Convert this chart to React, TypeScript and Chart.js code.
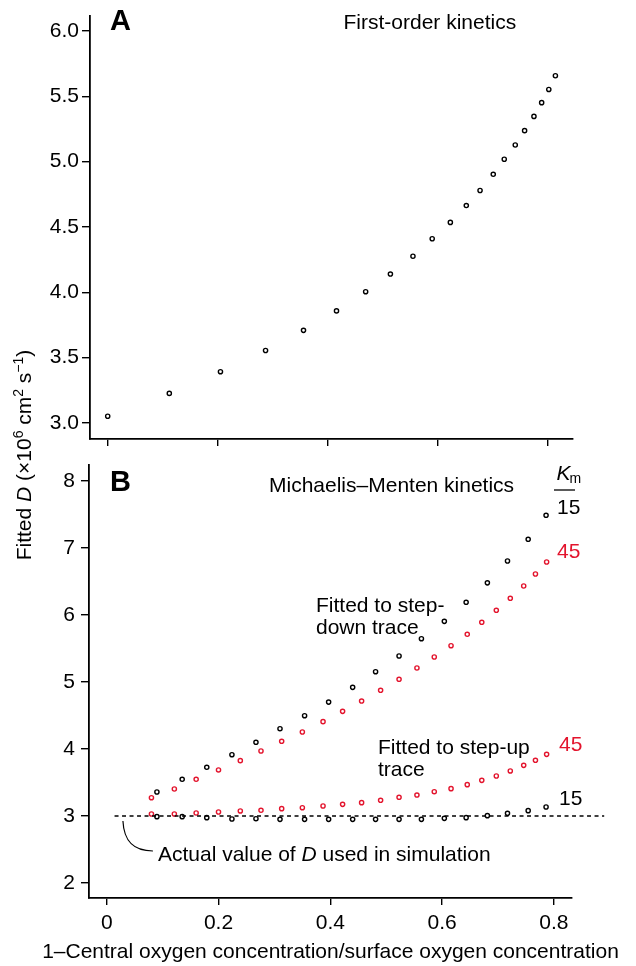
import React, { useEffect, useRef } from 'react';
import { Chart, registerables } from 'chart.js';

Chart.register(...registerables);

const FONT = '"Liberation Sans", Arial, Helvetica, sans-serif';
const RED = '#e3142d';
const INK = '#000';

// ---------- Panel A: first-order kinetics ----------
const firstOrderX = [0, 0.112, 0.205, 0.287, 0.356, 0.416, 0.469, 0.514, 0.555, 0.59, 0.623, 0.652, 0.677, 0.701, 0.721, 0.741, 0.758, 0.775, 0.789, 0.802, 0.814];
const firstOrderD = [3.052, 3.227, 3.393, 3.555, 3.709, 3.858, 4.005, 4.14, 4.276, 4.41, 4.535, 4.664, 4.779, 4.903, 5.018, 5.127, 5.237, 5.346, 5.451, 5.552, 5.657];
const yTicksA = [3.0, 3.5, 4.0, 4.5, 5.0, 5.5, 6.0];
const yTickLabelsA = ['3.0', '3.5', '4.0', '4.5', '5.0', '5.5', '6.0'];

// ---------- Panel B: Michaelis–Menten kinetics ----------
const xKm15 = [0.0898, 0.135, 0.179, 0.224, 0.267, 0.31, 0.354, 0.397, 0.44, 0.481, 0.523, 0.563, 0.604, 0.643, 0.681, 0.717, 0.754, 0.786];
const stepDownKm15 = [3.358, 3.548, 3.727, 3.915, 4.1, 4.303, 4.497, 4.7, 4.92, 5.154, 5.388, 5.646, 5.905, 6.19, 6.48, 6.806, 7.13, 7.488];
const stepUpKm15 = [2.99, 2.99, 2.975, 2.955, 2.96, 2.95, 2.95, 2.95, 2.95, 2.95, 2.95, 2.95, 2.965, 2.975, 3.005, 3.04, 3.08, 3.134];
const xKm45 = [0.08, 0.121, 0.16, 0.2, 0.239, 0.276, 0.313, 0.35, 0.387, 0.422, 0.456, 0.49, 0.523, 0.555, 0.586, 0.616, 0.645, 0.671, 0.697, 0.722, 0.746, 0.767, 0.787];
const stepDownKm45 = [3.273, 3.403, 3.548, 3.687, 3.826, 3.97, 4.115, 4.254, 4.408, 4.562, 4.716, 4.876, 5.04, 5.209, 5.373, 5.542, 5.712, 5.891, 6.07, 6.249, 6.433, 6.612, 6.791];
const stepUpKm45 = [3.03, 3.03, 3.045, 3.06, 3.075, 3.085, 3.11, 3.124, 3.149, 3.174, 3.199, 3.234, 3.279, 3.313, 3.363, 3.408, 3.468, 3.532, 3.597, 3.672, 3.756, 3.831, 3.92];
const actualD = 3;
const actualLineX = [0.014, 0.89];
const yTicksB = [2, 3, 4, 5, 6, 7, 8];
const yTickLabelsB = ['2', '3', '4', '5', '6', '7', '8'];

// shared x ticks
const xTicks = [0, 0.2, 0.4, 0.6, 0.8];
const xTickLabels = ['0', '0.2', '0.4', '0.6', '0.8'];

const xTitle = '1\u2013Central oxygen concentration/surface oxygen concentration';

const W = 636;
const H = 966;

const pts = (xs: number[], ys: number[]) => xs.map((x, i) => ({ x, y: ys[i] }));

const pointDs = (data: { x: number; y: number }[], color: string) => ({
  data,
  showLine: false,
  pointStyle: 'circle',
  pointRadius: 2.1,
  pointHoverRadius: 2.1,
  pointBorderWidth: 1.4,
  borderColor: color,
  pointBorderColor: color,
  backgroundColor: 'rgba(0,0,0,0)',
  pointBackgroundColor: 'rgba(0,0,0,0)',
});

const font = (size: number, style = '', weight = '') => `${style} ${weight} ${size}px ${FONT}`.trim();

function drawRich(ctx: CanvasRenderingContext2D, segs: { t: string; f: string; dy?: number; c?: string }[], x: number, y: number, center = false) {
  let total = 0;
  for (const s of segs) {
    ctx.font = s.f;
    total += ctx.measureText(s.t).width;
  }
  let cx = center ? x - total / 2 : x;
  ctx.textAlign = 'left';
  ctx.textBaseline = 'alphabetic';
  for (const s of segs) {
    ctx.font = s.f;
    ctx.fillStyle = s.c || INK;
    ctx.fillText(s.t, cx, y + (s.dy || 0));
    cx += ctx.measureText(s.t).width;
  }
}

function text(ctx: CanvasRenderingContext2D, t: string, x: number, y: number, f: string, c = INK, align: CanvasTextAlign = 'left') {
  ctx.font = f;
  ctx.fillStyle = c;
  ctx.textAlign = align;
  ctx.textBaseline = 'alphabetic';
  ctx.fillText(t, x, y);
}

const axisStyle = {
  grid: { display: true, drawOnChartArea: false, drawTicks: true, tickLength: 8, color: INK, lineWidth: 1.4 },
  border: { display: true, color: INK, width: 1.8 },
};

const annotA = {
  id: 'annotA',
  afterDraw(chart: any) {
    const ctx = chart.ctx as CanvasRenderingContext2D;
    ctx.save();
    text(ctx, 'A', 110, 30, font(29, '', 'bold'));
    text(ctx, 'First-order kinetics', 343.5, 28.5, font(21));
    ctx.restore();
  },
};

const annotB = {
  id: 'annotB',
  afterDraw(chart: any) {
    const ctx = chart.ctx as CanvasRenderingContext2D;
    const xs = chart.scales.x;
    const ys = chart.scales.y;
    const area = chart.chartArea;
    ctx.save();
    text(ctx, 'B', 110, 490.5, font(29, '', 'bold'));
    text(ctx, 'Michaelis\u2013Menten kinetics', 269, 491.5, font(21));
    // K_m header
    text(ctx, 'K', 556.5, 480, font(21, 'italic'));
    ctx.font = font(21, 'italic');
    const kw = ctx.measureText('K').width;
    text(ctx, 'm', 556.5 + kw - 1, 483, font(14));
    ctx.strokeStyle = INK;
    ctx.lineWidth = 1.3;
    ctx.beginPath();
    ctx.moveTo(554, 490);
    ctx.lineTo(575, 490);
    ctx.stroke();
    text(ctx, '15', 557, 514, font(21));
    text(ctx, '45', 557, 557.5, font(21), RED);
    text(ctx, 'Fitted to step-', 316, 611.5, font(21));
    text(ctx, 'down trace', 316, 633.5, font(21));
    text(ctx, 'Fitted to step-up', 378, 753.5, font(21));
    text(ctx, 'trace', 378, 775.5, font(21));
    text(ctx, '45', 559, 751, font(21), RED);
    text(ctx, '15', 559, 805, font(21));
    // leader for actual value
    const lx = xs.getPixelForValue(0.029);
    const ly = ys.getPixelForValue(actualD) + 5;
    ctx.strokeStyle = INK;
    ctx.lineWidth = 1.2;
    ctx.beginPath();
    ctx.moveTo(lx, ly);
    ctx.bezierCurveTo(lx + 1, ly + 20, lx + 10, ly + 30, lx + 30, ly + 30);
    ctx.stroke();
    drawRich(ctx, [
      { t: 'Actual value of ', f: font(21) },
      { t: 'D', f: font(21, 'italic') },
      { t: ' used in simulation', f: font(21) },
    ], lx + 35, ly + 40);
    // x-axis title
    text(ctx, xTitle, (area.left + area.right) / 2, 958, font(21), INK, 'center');
    // y-axis title (shared)
    ctx.translate(23, 455);
    ctx.rotate(-Math.PI / 2);
    drawRich(ctx, [
      { t: 'Fitted ', f: font(21) },
      { t: 'D', f: font(21, 'italic') },
      { t: ' (\u00d710', f: font(21) },
      { t: '6', f: font(14), dy: -8 },
      { t: ' cm', f: font(21) },
      { t: '2', f: font(14), dy: -8 },
      { t: ' s', f: font(21) },
      { t: '\u22121', f: font(14), dy: -8 },
      { t: ')', f: font(21) },
    ], 0, 7.5, true);
    ctx.restore();
  },
};

export default function App() {
  const refA = useRef<HTMLCanvasElement>(null);
  const refB = useRef<HTMLCanvasElement>(null);

  useEffect(() => {
    const chartA = new Chart(refA.current as HTMLCanvasElement, {
      type: 'scatter',
      data: { datasets: [pointDs(pts(firstOrderX, firstOrderD), INK) as any] },
      options: {
        animation: false,
        responsive: false,
        devicePixelRatio: 1,
        layout: { padding: { top: 5, right: W - 573, left: 0, bottom: 0 } },
        plugins: { legend: { display: false }, tooltip: { enabled: false } },
        events: [],
        scales: {
          x: {
            type: 'linear',
            min: -0.0322,
            max: 0.846,
            ...axisStyle,
            grid: { ...axisStyle.grid, tickLength: 7 },
            ticks: { callback: () => '' },
            afterBuildTicks: (s: any) => { s.ticks = xTicks.map((v) => ({ value: v })); },
            afterFit: (s: any) => { s.height = H - 439; },
          },
          y: {
            type: 'linear',
            min: 2.878,
            max: 6.117,
            ...axisStyle,
            ticks: {
              color: INK,
              padding: 3,
              font: { family: FONT, size: 21 },
              callback: (_v: any, i: number) => yTickLabelsA[i],
            },
            afterBuildTicks: (s: any) => { s.ticks = yTicksA.map((v) => ({ value: v })); },
            afterFit: (s: any) => { s.width = 90; },
          },
        },
      } as any,
      plugins: [annotA],
    });

    const chartB = new Chart(refB.current as HTMLCanvasElement, {
      type: 'scatter',
      data: {
        datasets: [
          {
            type: 'line',
            data: actualLineX.map((x) => ({ x, y: actualD })),
            borderColor: INK,
            borderWidth: 1.3,
            borderDash: [4, 3.5],
            pointRadius: 0,
            showLine: true,
            fill: false,
            clip: false,
          } as any,
          pointDs(pts(xKm45, stepDownKm45), RED) as any,
          pointDs(pts(xKm45, stepUpKm45), RED) as any,
          pointDs(pts(xKm15, stepDownKm15), INK) as any,
          pointDs(pts(xKm15, stepUpKm15), INK) as any,
        ],
      },
      options: {
        animation: false,
        responsive: false,
        devicePixelRatio: 1,
        layout: { padding: { top: 465, right: W - 572, left: 0, bottom: 0 } },
        plugins: { legend: { display: false }, tooltip: { enabled: false } },
        events: [],
        scales: {
          x: {
            type: 'linear',
            min: -0.0317,
            max: 0.8324,
            ...axisStyle,
            grid: { ...axisStyle.grid, tickLength: 7 },
            ticks: {
              color: INK,
              padding: 6,
              maxRotation: 0,
              font: { family: FONT, size: 21 },
              callback: (_v: any, i: number) => xTickLabels[i],
            },
            afterBuildTicks: (s: any) => { s.ticks = xTicks.map((v) => ({ value: v })); },
            afterFit: (s: any) => { s.height = H - 898; },
          },
          y: {
            type: 'linear',
            min: 1.776,
            max: 8.239,
            ...axisStyle,
            ticks: {
              color: INK,
              padding: 6,
              font: { family: FONT, size: 21 },
              callback: (_v: any, i: number) => yTickLabelsB[i],
            },
            afterBuildTicks: (s: any) => { s.ticks = yTicksB.map((v) => ({ value: v })); },
            afterFit: (s: any) => { s.width = 89; },
          },
        },
      } as any,
      plugins: [annotB],
    });

    return () => {
      chartA.destroy();
      chartB.destroy();
    };
  }, []);

  const cs: React.CSSProperties = { position: 'absolute', left: 0, top: 0, width: W, height: H };
  return (
    <div style={{ position: 'absolute', left: 0, top: 0, width: W, height: H, background: '#fff' }}>
      <canvas ref={refA} width={W} height={H} style={cs} />
      <canvas ref={refB} width={W} height={H} style={cs} />
    </div>
  );
}
